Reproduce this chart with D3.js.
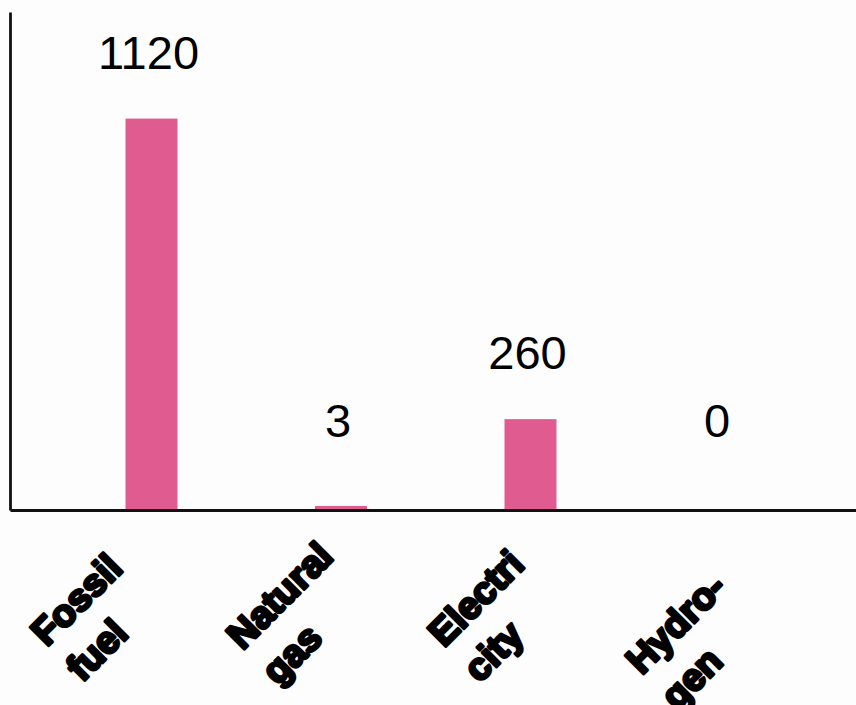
<!DOCTYPE html>
<html>
<head>
<meta charset="utf-8">
<script src="https://cdn.jsdelivr.net/npm/d3@7"></script>
<style>
  html, body { margin: 0; padding: 0; background: #fdfdfd; }
  svg { display: block; }
</style>
</head>
<body>
<svg id="chart" width="856" height="705"></svg>
<script>
// Fuel categories and their values
const categories = ["Fossil fuel", "Natural gas", "Electricity", "Hydrogen"];
const categoryLines = [["Fossil", "fuel"], ["Natural", "gas"], ["Electri", "city"], ["Hydro-", "gen"]];
const values = [1120, 3, 260, 0];

const W = 856, H = 705;
const svg = d3.select("#chart");

const baseY = 510, topY = 12, leftX = 10;
const barWidth = 52;
const barColor = "#e05c90";

const x = d3.scalePoint().domain(categories).range([151.5, 720]);
const y = d3.scaleLinear().domain([0, 1425]).range([baseY, topY]);

// category label anchors (rotated, two-line labels)
const xLabel = d3.scalePoint().domain(categories).range([86, 683]);
const labelY = 624;
const labelNudge = { "Hydrogen": 26 };

const rows = categories.map((c, i) => ({ c, v: values[i], lines: categoryLines[i] }));
const barH = d => d.v > 0 ? Math.max(baseY - y(d.v), 4) : 0;

// bars
svg.append("g").selectAll("rect")
  .data(rows)
  .join("rect")
  .attr("x", d => x(d.c) - barWidth / 2)
  .attr("width", barWidth)
  .attr("y", d => baseY - barH(d))
  .attr("height", barH)
  .attr("fill", barColor);

// value labels
svg.append("g").selectAll("text")
  .data(rows)
  .join("text")
  .attr("x", d => x(d.c) - 3)
  .attr("y", d => Math.min(y(d.v) - 50, 437))
  .attr("text-anchor", "middle")
  .attr("font-family", "'Liberation Sans', Arial, sans-serif")
  .attr("font-size", 47)
  .attr("fill", "#000")
  .text(d => d.v);

// axes (lines only, no ticks)
svg.append("g")
  .attr("transform", `translate(${leftX},0)`)
  .call(d3.axisLeft(y).tickValues([]).tickSizeOuter(0))
  .call(g => g.select(".domain").attr("stroke", "#111").attr("stroke-width", 2.8));

const xAxisScale = d3.scaleLinear().domain([0, 1]).range([leftX, W]);
svg.append("g")
  .attr("transform", `translate(0,${baseY})`)
  .call(d3.axisBottom(xAxisScale).tickValues([]).tickSizeOuter(0))
  .call(g => g.select(".domain").attr("stroke", "#111").attr("stroke-width", 3));

// rotated category labels
const lineGap = 50;
const capHalf = 14;
const lab = svg.append("g").selectAll("g")
  .data(rows)
  .join("g")
  .attr("transform", d => `translate(${xLabel(d.c)},${labelY + (labelNudge[d.c] || 0)}) rotate(-45)`);

lab.each(function(d) {
  const g = d3.select(this);
  const texts = d.lines.map((t, k) => g.append("text")
    .attr("y", (k === 0 ? -lineGap / 2 : lineGap / 2) + capHalf)
    .attr("font-family", "'Liberation Sans', Arial, sans-serif")
    .attr("font-weight", "bold")
    .attr("font-size", 38)
    .attr("fill", "#000")
    .attr("stroke", "#000")
    .attr("stroke-width", 3)
    .attr("stroke-linejoin", "round")
    .text(t));
  const lens = texts.map(t => t.node().getComputedTextLength());
  const x0 = -(lens[0] + lens[1]) / 4;
  texts.forEach(t => t.attr("x", x0));
});
</script>
</body>
</html>
